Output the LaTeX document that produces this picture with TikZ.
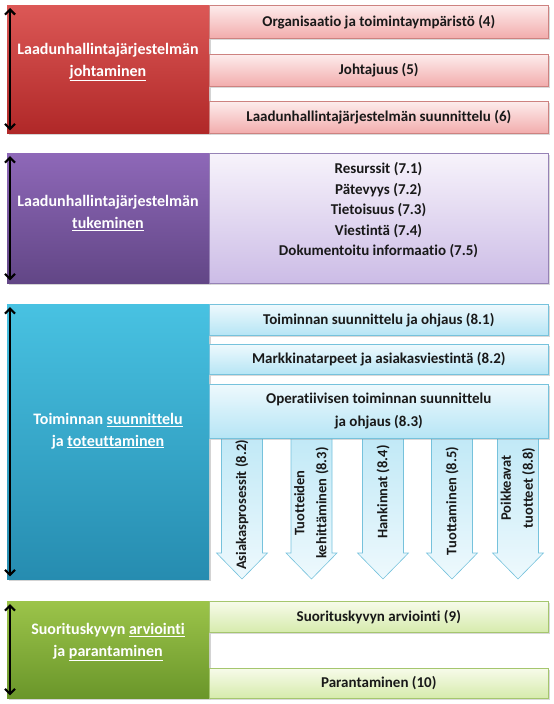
\documentclass[tikz,border=0pt]{standalone}
\usepackage{fontspec}
\setmainfont{Carlito}[Ligatures=NoCommon]
\usetikzlibrary{arrows.meta,shadows,positioning}

\definecolor{redA}{RGB}{220,88,86}
\definecolor{redB}{RGB}{176,40,40}
\definecolor{redC}{RGB}{253,236,236}
\definecolor{redD}{RGB}{242,172,172}
\definecolor{redE}{RGB}{205,130,128}
\definecolor{purA}{RGB}{142,104,184}
\definecolor{purB}{RGB}{98,70,134}
\definecolor{purC}{RGB}{247,243,251}
\definecolor{purD}{RGB}{204,188,230}
\definecolor{purE}{RGB}{150,130,182}
\definecolor{cyaA}{RGB}{72,194,226}
\definecolor{cyaB}{RGB}{38,140,176}
\definecolor{cyaC}{RGB}{238,249,253}
\definecolor{cyaD}{RGB}{182,229,245}
\definecolor{cyaE}{RGB}{118,194,220}
\definecolor{greA}{RGB}{156,196,74}
\definecolor{greB}{RGB}{106,150,42}
\definecolor{greC}{RGB}{247,251,234}
\definecolor{greD}{RGB}{214,235,172}
\definecolor{greE}{RGB}{165,198,110}
\definecolor{ink}{RGB}{25,25,25}

\tikzset{
	mainbox/.style={rectangle, anchor=north west, minimum width=202pt, inner sep=0pt,
		drop shadow={shadow xshift=1.5pt, shadow yshift=-1.5pt, opacity=0.35}},
	subbox/.style={rectangle, anchor=north west, minimum width=339pt, inner sep=0pt, line width=0.6pt,
		text=ink, font=\fontsize{15}{23}\selectfont\bfseries, align=center,
		drop shadow={shadow xshift=1.5pt, shadow yshift=-1.5pt, opacity=0.3}},
	title/.style={text=white, align=center, font=\fontsize{16}{21.5}\selectfont\bfseries},
	twoway/.style={{Straight Barb[length=5pt,width=10pt]}-{Straight Barb[length=5pt,width=10pt]}, line width=2.2pt, black},
	downarrow/.style={top color=cyaD!85, bottom color=cyaC, draw=cyaE, line width=0.6pt},
	arrowtext/.style={rotate=90, text=ink, align=center, font=\fontsize{14.5}{22}\selectfont\bfseries}
}

\begin{document}
\begin{tikzpicture}[x=1pt,y=-1pt]
	\useasboundingbox (0,0) rectangle (554,704);

	% johtaminen
	\node[mainbox, minimum height=128pt, top color=redA, bottom color=redB] (johto) at (7,5) {};
	\node[subbox, minimum height=33pt, top color=redC, bottom color=redD, draw=redE] (org) at (209,5) {Organisaatio ja toimintaympäristö (4)};
	\node[subbox, minimum height=32pt, top color=redC, bottom color=redD, draw=redE] (lead) at (209,54) {Johtajuus (5)};
	\node[subbox, minimum height=32pt, top color=redC, bottom color=redD, draw=redE] (plan) at (209,101) {Laadunhallintajärjestelmän suunnittelu (6)};
	\node[title] (johtoT) at (108,62) {Laadunhallintajärjestelmän\\\underline{johtaminen}};
	\draw[twoway] ([xshift=3pt,yshift=-3pt]johto.north west) -- ([xshift=3pt,yshift=3pt]johto.south west);

	% tukeminen
	\node[mainbox, minimum height=130pt, top color=purA, bottom color=purB] (tuki) at (7,153) {};
	\node[subbox, minimum height=130pt, top color=purC, bottom color=purD, draw=purE] (res) at (209,153) {};
	\node[text=ink, align=center, font=\fontsize{15}{20.5}\selectfont\bfseries, anchor=north] (resT) at (378.5,159)
		{Resurssit (7.1)\\Pätevyys (7.2)\\Tietoisuus (7.3)\\Viestintä (7.4)\\Dokumentoitu informaatio (7.5)};
	\node[title] (tukiT) at (108,213) {Laadunhallintajärjestelmän\\\underline{tukeminen}};
	\draw[twoway] ([xshift=3pt,yshift=-3pt]tuki.north west) -- ([xshift=3pt,yshift=3pt]tuki.south west);

	% toteuttaminen
	\node[mainbox, minimum height=275pt, top color=cyaA, bottom color=cyaB] (tot) at (7,304) {};
	\foreach \x/\n in {242/a, 311.5/b, 383/c, 452/d, 518/e}
		\shade[downarrow] (\x-20.5,438) -- (\x+20.5,438) -- (\x+20.5,553) -- (\x+25.5,553)
			-- (\x,579) -- (\x-25.5,553) -- (\x-20.5,553) -- cycle;
	\node[subbox, minimum height=31pt, top color=cyaC, bottom color=cyaD, draw=cyaE] (ohj) at (209,304) {Toiminnan suunnittelu ja ohjaus (8.1)};
	\node[subbox, minimum height=30pt, top color=cyaC, bottom color=cyaD, draw=cyaE] (mark) at (209,344) {Markkinatarpeet ja asiakasviestintä (8.2)};
	\node[subbox, minimum height=54pt, top color=cyaC, bottom color=cyaD, draw=cyaE] (oper) at (209,384) {Operatiivisen toiminnan suunnittelu\\ja ohjaus (8.3)};
	\node[title] (totT) at (108,431) {Toiminnan \underline{suunnittelu}\\ja \underline{toteuttaminen}};
	\draw[twoway] ([xshift=3pt,yshift=-3pt]tot.north west) -- ([xshift=3pt,yshift=3pt]tot.south west);

	\node[arrowtext] (asiakas) at (242,505) {Asiakasprosessit (8.2)};
	\node[arrowtext] (kehitys) at (311.5,503) {Tuotteiden\\kehittäminen (8.3)};
	\node[arrowtext] (hank) at (383,492) {Hankinnat (8.4)};
	\node[arrowtext] (tuott) at (452,501) {Tuottaminen (8.5)};
	\node[arrowtext] (poik) at (518,488) {Poikkeavat\\tuotteet (8.8)};

	% parantaminen
	\node[mainbox, minimum height=97pt, top color=greA, bottom color=greB] (suor) at (7,601) {};
	\node[subbox, minimum height=31pt, top color=greC, bottom color=greD, draw=greE] (arv) at (209,601) {Suorituskyvyn arviointi (9)};
	\node[subbox, minimum height=30pt, top color=greC, bottom color=greD, draw=greE] (par) at (209,668) {Parantaminen (10)};
	\node[title] (suorT) at (108,642) {Suorituskyvyn \underline{arviointi}\\ja \underline{parantaminen}};
	\draw[twoway] ([xshift=3pt,yshift=-3pt]suor.north west) -- ([xshift=3pt,yshift=3pt]suor.south west);
\end{tikzpicture}
\end{document}
